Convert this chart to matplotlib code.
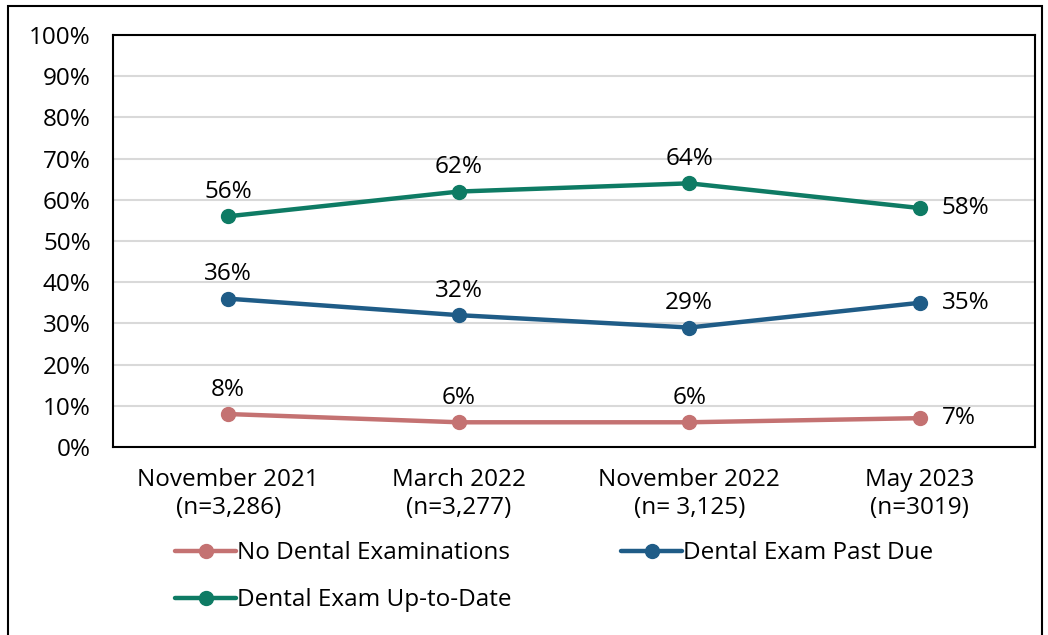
import matplotlib
matplotlib.use("Agg")
import matplotlib.pyplot as plt
from matplotlib.patches import Rectangle

plt.rcParams['font.family'] = ['Open Sans', 'DejaVu Sans']

waves = ["November 2021\n(n=3,286)", "March 2022\n(n=3,277)",
         "November 2022\n(n= 3,125)", "May 2023\n(n=3019)"]
no_exam = [8, 6, 6, 7]
past_due = [36, 32, 29, 35]
up_to_date = [56, 62, 64, 58]

series = [
    ("No Dental Examinations", no_exam, "#C47272"),
    ("Dental Exam Past Due", past_due, "#1F5C87"),
    ("Dental Exam Up-to-Date", up_to_date, "#0E7B64"),
]

fs = 17.5

fig = plt.figure(figsize=(10.48, 6.35), dpi=100)
ax = fig.add_axes([113 / 1048, 1 - 447 / 635, 922 / 1048, 412 / 635])

# outer frame around the whole chart (bottom edge runs off the page)
fig.patches.append(Rectangle((8 / 1048, -0.05), 1034 / 1048, 1 - 6 / 635 + 0.05,
                             transform=fig.transFigure, fill=False,
                             edgecolor="black", linewidth=1.5))

x = list(range(len(waves)))
lines = []
for name, vals, col in series:
    ln, = ax.plot(x, vals, color=col, lw=3.2, marker="o", ms=10, label=name,
                  solid_capstyle="round", zorder=3)
    lines.append(ln)
    for i, v in enumerate(vals):
        if i == len(vals) - 1:
            ax.annotate(f"{v}%", (i, v), xytext=(16, 0), textcoords="offset points",
                        ha="left", va="center", fontsize=fs)
        else:
            ax.annotate(f"{v}%", (i, v), xytext=(0, 9), textcoords="offset points",
                        ha="center", va="bottom", fontsize=fs)

ax.set_xlim(-0.5, 3.5)
ax.set_ylim(0, 100)
ax.set_yticks(range(0, 101, 10))
ax.set_yticklabels([f"{t}%" for t in range(0, 101, 10)], fontsize=fs)
ax.set_xticks(x)
ax.set_xticklabels(waves, fontsize=fs, linespacing=1.25)
ax.tick_params(length=0, pad=16)
ax.tick_params(axis="x", pad=15)
ax.grid(axis="y", color="#D9D9D9", lw=1.5)
ax.set_axisbelow(True)
for sp in ax.spines.values():
    sp.set_linewidth(1.5)
    sp.set_color("black")

# legend fills column by column: pink / green on the left, blue on the right
order = [lines[0], lines[2], lines[1]]
ax.legend(order, [l.get_label() for l in order], loc="upper left",
          bbox_to_anchor=(0.057, -0.205), ncol=2, frameon=False,
          fontsize=fs, handlelength=2.5, handletextpad=0.05, columnspacing=4.5,
          labelspacing=0.95, borderaxespad=0)

fig.savefig("out.png", dpi=100)
